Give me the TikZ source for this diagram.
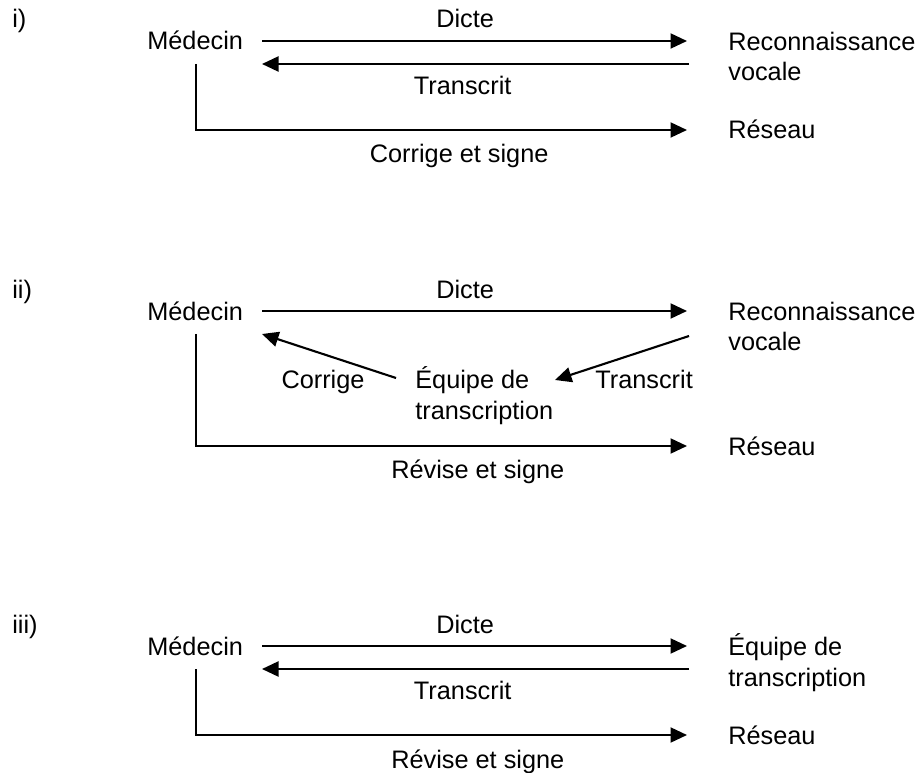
\documentclass[tikz,border=0pt]{standalone}
\usepackage{fontspec}
\setmainfont{Liberation Sans}
\usetikzlibrary{arrows.meta}

\begin{document}
\begin{tikzpicture}[x=0.02cm, y=-0.02cm]
			\tikzset{texte/.style={font=\fontsize{14.4}{17.5}\selectfont, inner sep=0pt, anchor=base west, align=left},
			etiq/.style={font=\fontsize{14.4}{17.5}\selectfont, inner sep=0pt, anchor=base},
			fleche/.style={line width=1.2pt, -{Triangle[length=0.33cm, width=0.3cm]}}};

			\useasboundingbox (0,0) rectangle (919,773);

			\foreach \n/\dy/\lab in {1/0/i), 2/270/ii), 3/605/iii)}{
				\node[texte] (num\n) at (12, 28+\dy) {\lab};
				\node[texte] (m\n) at (147, 50+\dy) {Médecin};
			}

			\node[texte] (rv1) at (728, 81) {Reconnaissance\\vocale};
			\node[texte] (res1) at (728, 139) {Réseau};
			\coordinate (d1a) at (262, 41);
			\coordinate (d1b) at (687, 41);
			\coordinate (t1a) at (689, 64);
			\coordinate (t1b) at (262, 64);
			\coordinate (v1a) at (196, 64);
			\coordinate (v1b) at (687, 130);

			\draw[fleche] (d1a) to node[etiq, pos=.478, yshift=0.26cm] {Dicte} (d1b);
			\draw[fleche] (t1a) to node[etiq, pos=.53, yshift=-0.62cm] {Transcrit} (t1b);
			\draw[fleche] (v1a) |- node[etiq, pos=.768, yshift=-0.66cm] {Corrige et signe} (v1b);

			\node[texte] (rv2) at (728, 351) {Reconnaissance\\vocale};
			\node[texte] (res2) at (728, 455) {Réseau};
			\node[texte] (eq2) at (415, 419) {Équipe de\\transcription};
			\node[etiq] (corr2) at (323, 388) {Corrige};
			\node[texte] (tr2) at (595, 388) {Transcrit};
			\coordinate (d2a) at (262, 311);
			\coordinate (d2b) at (687, 311);
			\coordinate (c2a) at (396, 378);
			\coordinate (c2b) at (262, 334);
			\coordinate (t2a) at (689, 336);
			\coordinate (t2b) at (555, 380);
			\coordinate (v2a) at (196, 334);
			\coordinate (v2b) at (687, 446);

			\draw[fleche] (d2a) to node[etiq, pos=.478, yshift=0.26cm] {Dicte} (d2b);
			\draw[fleche] (c2a) to (c2b);
			\draw[fleche] (t2a) to (t2b);
			\draw[fleche] (v2a) |- node[etiq, pos=.787, yshift=-0.66cm] {Révise et signe} (v2b);

			\node[texte] (eq3) at (728, 686) {Équipe de\\transcription};
			\node[texte] (res3) at (728, 744) {Réseau};
			\coordinate (d3a) at (262, 646);
			\coordinate (d3b) at (687, 646);
			\coordinate (t3a) at (689, 669);
			\coordinate (t3b) at (262, 669);
			\coordinate (v3a) at (196, 669);
			\coordinate (v3b) at (687, 735);

			\draw[fleche] (d3a) to node[etiq, pos=.478, yshift=0.26cm] {Dicte} (d3b);
			\draw[fleche] (t3a) to node[etiq, pos=.53, yshift=-0.62cm] {Transcrit} (t3b);
			\draw[fleche] (v3a) |- node[etiq, pos=.787, yshift=-0.66cm] {Révise et signe} (v3b);
		\end{tikzpicture}
\end{document}
